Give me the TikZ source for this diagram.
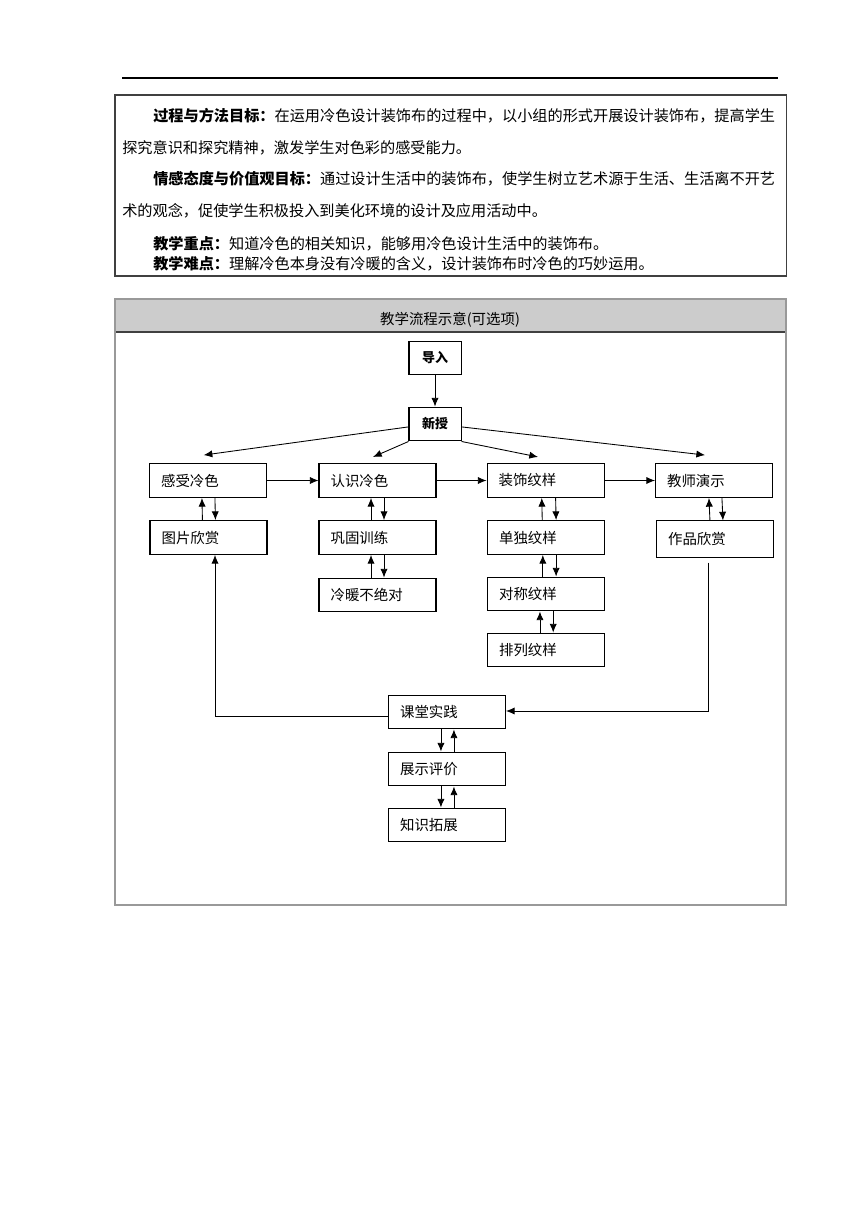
\documentclass[tikz,border=0pt]{standalone}
\usepackage{fontspec}
\setmainfont{Noto Sans CJK SC}
\usetikzlibrary{arrows.meta}
\XeTeXlinebreaklocale "zh"
\XeTeXlinebreakskip = 0pt plus 1pt
\definecolor{framegray}{HTML}{999999}
\definecolor{headgray}{HTML}{CCCCCC}
\tikzstyle{lesson} = [rectangle,
minimum width=81pt,
minimum height=23.5pt,
text width=65pt,
inner xsep=8pt,
align=left,
draw=black, line width=0.7pt,
font=\fontsize{10pt}{12pt}\selectfont]
\tikzstyle{entry} = [rectangle,
minimum width=36pt,
minimum height=23.5pt,
draw=black, line width=0.7pt,
font=\bfseries\fontsize{9pt}{11pt}\selectfont]
\tikzstyle{goal} = [anchor=base west, inner sep=0pt,
font=\fontsize{10.5pt}{12pt}\selectfont]
\tikzstyle{arrow} = [line width=0.6pt, -{Latex[length=6pt,width=5pt]}]

\begin{document}
\begin{tikzpicture}[x=0.6923pt, y=-0.6923pt]
	\useasboundingbox[fill=white] (0,0) rectangle (860,1216);
	% page rule and goals box
	\draw[line width=0.7pt] (122,78) -- (778,78);
	\draw[draw=black!75, line width=0.7pt] (115,95) rectangle (786,276);
	\node (l1) [goal] at (153,121) {\makebox[432pt][s]{\textbf{过程与方法目标：}在运用冷色设计装饰布的过程中，以小组的形式开展设计装饰布，提高学生}};
	\node (l2) [goal] at (122,153) {探究意识和探究精神，激发学生对色彩的感受能力。};
	\node (l3) [goal] at (153,184) {\textbf{情感态度与价值观目标：}通过设计生活中的装饰布，使学生树立艺术源于生活、生活离不开艺};
	\node (l4) [goal] at (122,216) {术的观念，促使学生积极投入到美化环境的设计及应用活动中。};
	\node (l5) [goal] at (153,249) {\textbf{教学重点：}知道冷色的相关知识，能够用冷色设计生活中的装饰布。};
	\node (l6) [goal] at (153,269) {\textbf{教学难点：}理解冷色本身没有冷暖的含义，设计装饰布时冷色的巧妙运用。};

	% flow box
	\fill[headgray] (115,299) rectangle (786,332);
	\draw[black!75, line width=0.7pt] (115,332) -- (786,332);
	\draw[framegray, line width=1pt] (115,299) rectangle (786,905);
	\node (head) [font=\fontsize{10pt}{12pt}\selectfont] at (450,320) {教学流程示意(可选项)};

	\node (intro) [entry] at (435,358) {导入};
	\node (teach) [entry] at (435,424) {新授};
	\node (feel) [lesson] at (208,480.5) {感受冷色};
	\node (know) [lesson] at (377.5,480.5) {认识冷色};
	\node (deco) [lesson] at (545.5,480.5) {装饰纹样};
	\node (demo) [lesson] at (714,480.5) {教师演示};
	\node (pic) [lesson] at (208.5,537.5) {图片欣赏};
	\node (drill) [lesson] at (377.5,537.5) {巩固训练};
	\node (single) [lesson] at (546,537.5) {单独纹样};
	\node (works) [lesson, minimum height=25pt] at (715,539) {作品欣赏};
	\node (relat) [lesson] at (377.5,595) {冷暖不绝对};
	\node (sym) [lesson] at (546,594) {对称纹样};
	\node (row) [lesson] at (546,650) {排列纹样};
	\node (prac) [lesson] at (447,712) {课堂实践};
	\node (show) [lesson] at (447,769) {展示评价};
	\node (ext) [lesson] at (447,825) {知识拓展};

	\draw[arrow] (intro) -- (teach);
	\draw[arrow] ([yshift=-2pt]teach.west) -- ([shift={(-3pt,5.5pt)}]feel.north);
	\draw[arrow] (teach.south west) -- ([shift={(-3.1pt,4.2pt)}]know.north);
	\draw[arrow] (teach.south east) -- ([shift={(-5.2pt,4.2pt)}]deco.north);
	\draw[arrow] ([yshift=-2pt]teach.east) -- ([shift={(-6.2pt,5.5pt)}]demo.north);
	\draw[arrow] (feel) -- (know);
	\draw[arrow] (know) -- (deco);
	\draw[arrow] (deco) -- (demo);

	\draw[arrow] ([xshift=-4.2pt]pic.north) -- ([xshift=-4.2pt]feel.south);
	\draw[arrow] ([xshift=4.8pt]feel.south) -- ([xshift=4.8pt]pic.north);
	\draw[arrow] ([xshift=-4.5pt]drill.north) -- ([xshift=-4.5pt]know.south);
	\draw[arrow] ([xshift=4.5pt]know.south) -- ([xshift=4.5pt]drill.north);
	\draw[arrow] ([xshift=-4.5pt]relat.north) -- ([xshift=-4.5pt]drill.south);
	\draw[arrow] ([xshift=4.5pt]drill.south) -- ([xshift=4.5pt]relat.north);
	\draw[arrow] ([xshift=-2.6pt]single.north) -- ([xshift=-2.6pt]deco.south);
	\draw[arrow] ([xshift=7pt]deco.south) -- ([xshift=7pt]single.north);
	\draw[arrow] ([xshift=-2.2pt]sym.north) -- ([xshift=-2.2pt]single.south);
	\draw[arrow] ([xshift=7pt]single.south) -- ([xshift=7pt]sym.north);
	\draw[arrow] ([xshift=-4.2pt]row.north) -- ([xshift=-4.2pt]sym.south);
	\draw[arrow] ([xshift=5pt]sym.south) -- ([xshift=5pt]row.north);
	\draw[arrow] ([xshift=-3.5pt]works.north) -- ([xshift=-3.5pt]demo.south);
	\draw[arrow] ([xshift=5.5pt]demo.south) -- ([xshift=5.5pt]works.north);

	\draw[arrow] ([xshift=-4.2pt]prac.south) -- ([xshift=-4.2pt]show.north);
	\draw[arrow] ([xshift=4.8pt]show.north) -- ([xshift=4.8pt]prac.south);
	\draw[arrow] ([xshift=-4.2pt]show.south) -- ([xshift=-4.2pt]ext.north);
	\draw[arrow] ([xshift=4.8pt]ext.north) -- ([xshift=4.8pt]show.south);

	% feedback lines
	\draw[arrow] ([yshift=-2.8pt]prac.west) -| ([xshift=4.5pt]pic.south);
	\draw[arrow] ([shift={(-4.8pt,-3.5pt)}]works.south) |- ([yshift=0.7pt]prac.east);
\end{tikzpicture}
\end{document}
